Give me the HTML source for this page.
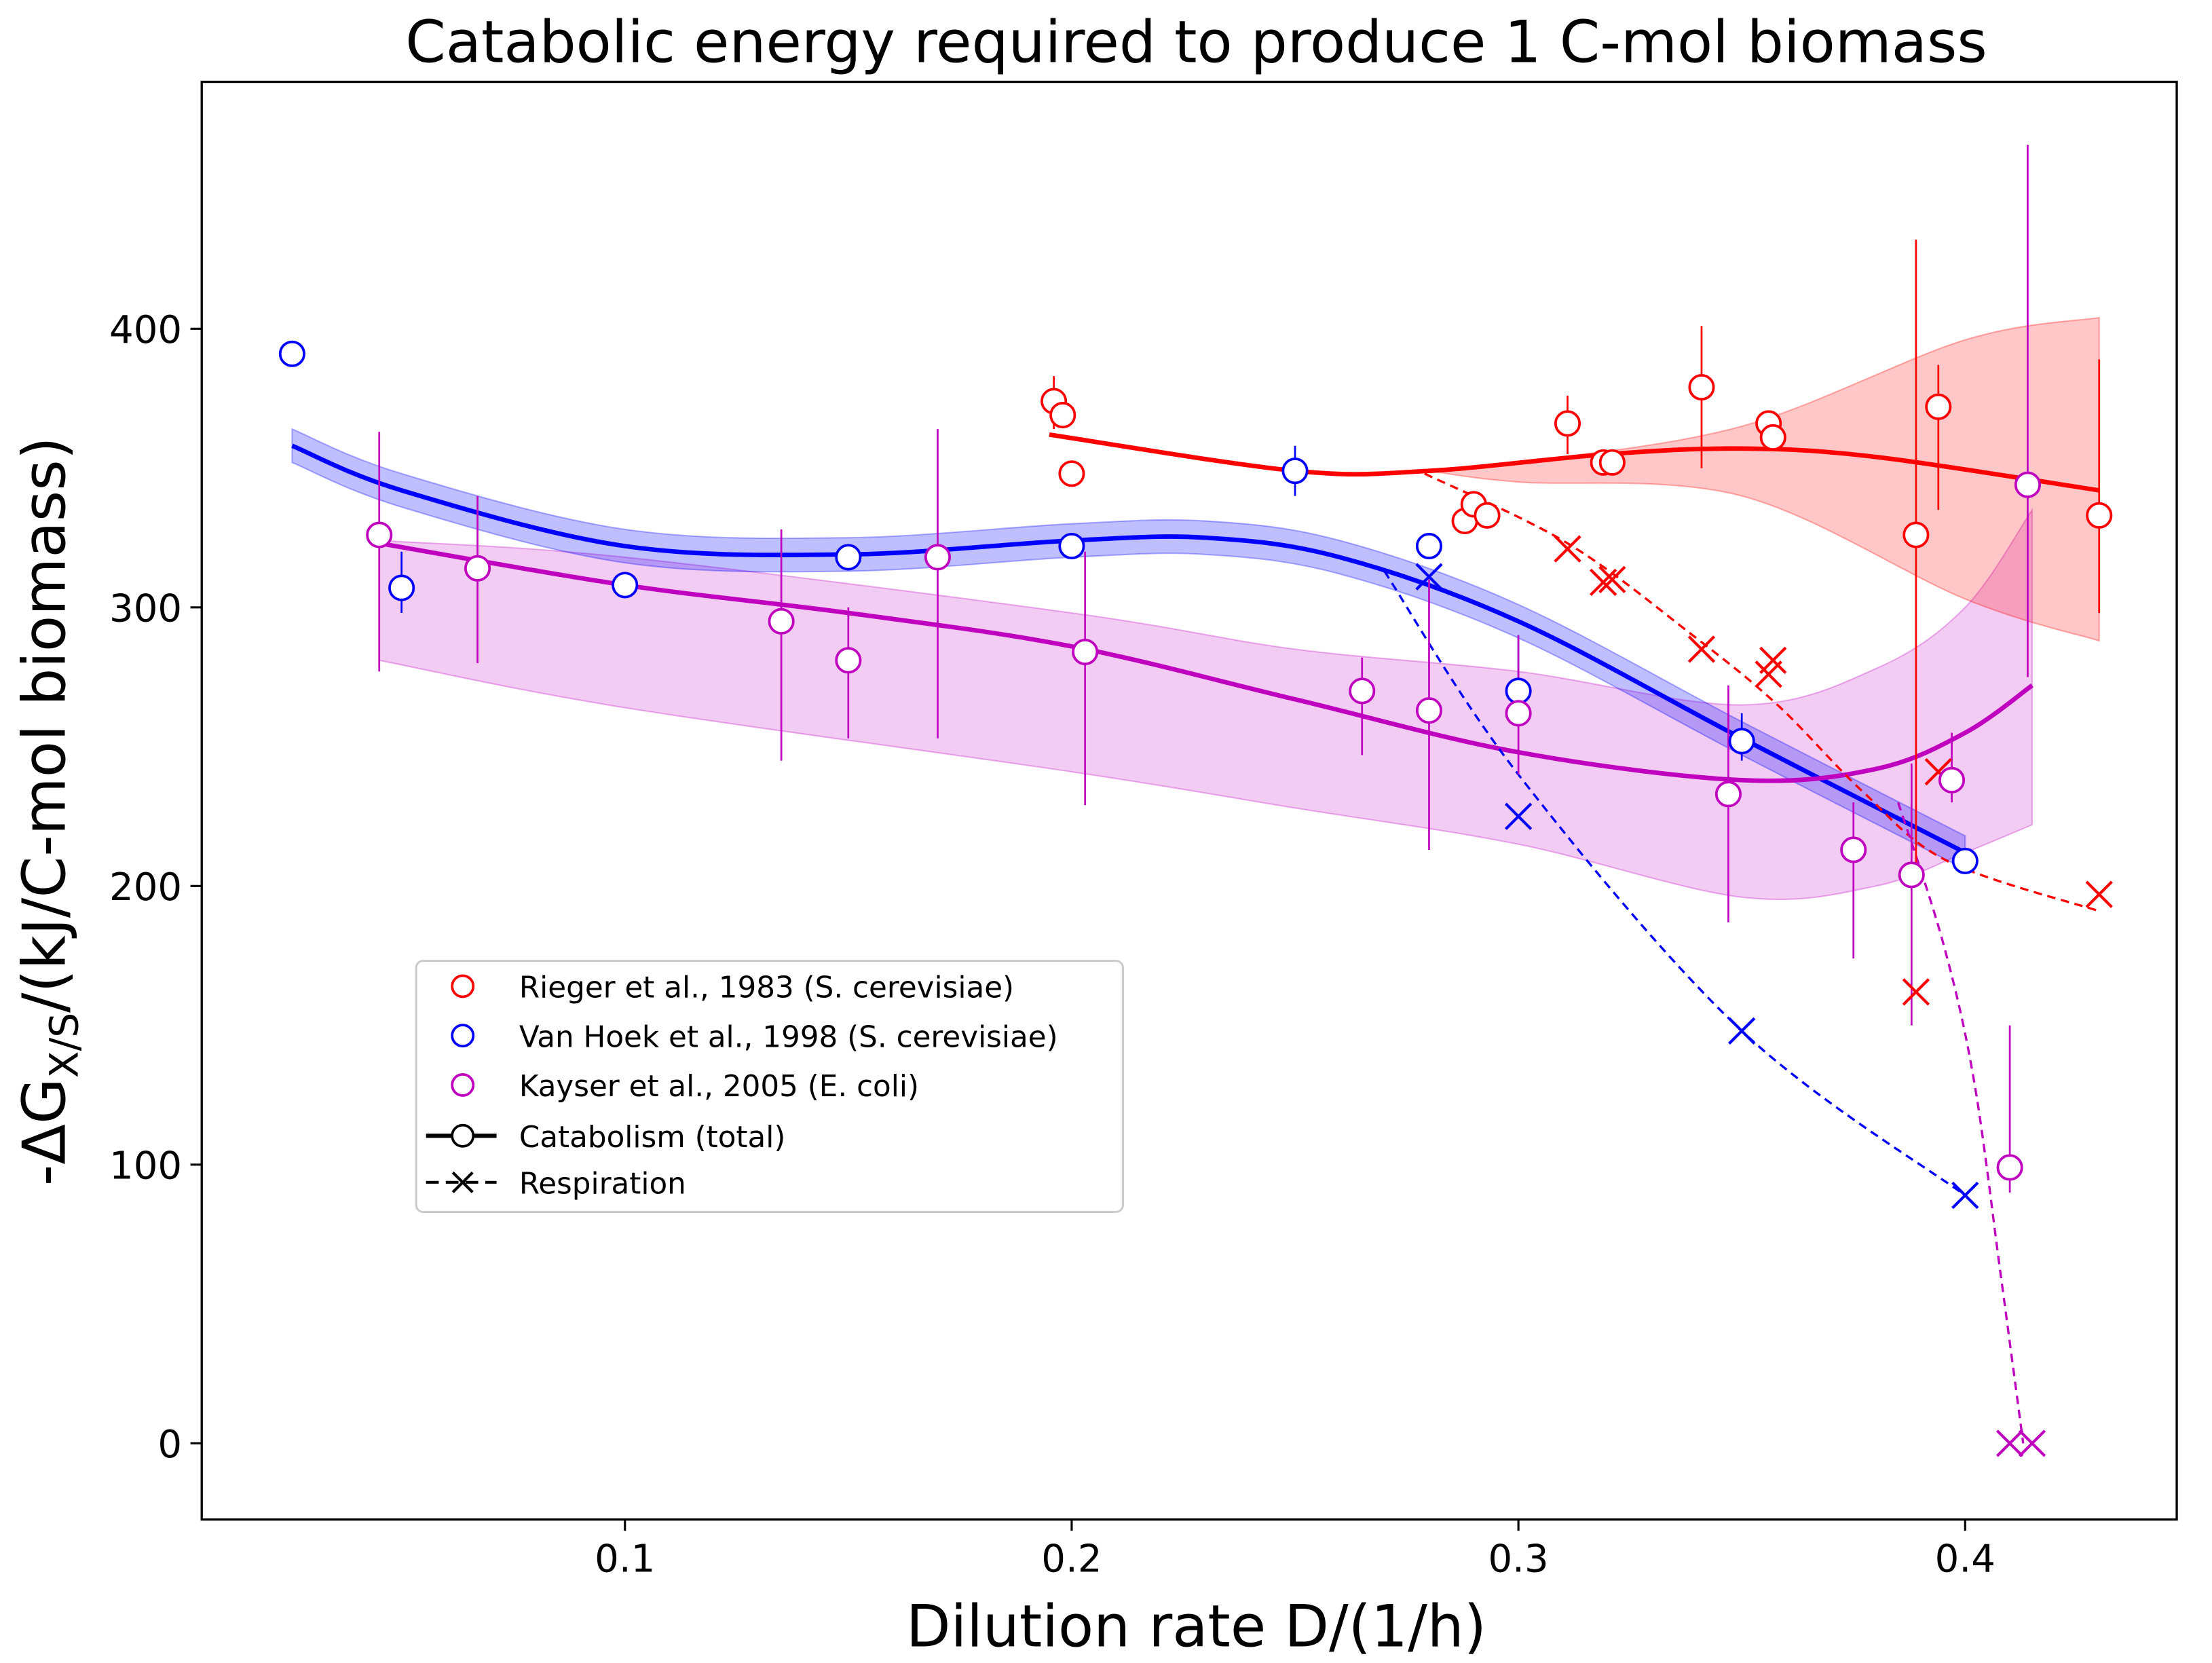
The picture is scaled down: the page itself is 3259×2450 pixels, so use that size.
<!DOCTYPE html>
<html><head><meta charset="utf-8">
<style>
html,body{margin:0;padding:0;background:#fff;}
svg{display:block;font-family:"DejaVu Sans","Liberation Sans",sans-serif;}
</style></head>
<body>
<svg id="chart" width="3259" height="2450" viewBox="0 0 1568 1178.7" preserveAspectRatio="none" xmlns="http://www.w3.org/2000/svg">
<rect width="1568" height="1179" fill="#fff"/>
<text x="848" y="44" font-size="41" text-anchor="middle">Catabolic energy required to produce 1 C-mol biomass</text>
<g id="plot"></g>
<rect x="143" y="58" width="1400" height="1019" fill="none" stroke="#000" stroke-width="1.6"/>
<g id="ticks"></g>
<text x="848" y="1167" font-size="41" text-anchor="middle">Dilution rate D/(1/h)</text>
<text transform="translate(46,575) rotate(-90)" font-size="42" text-anchor="middle">-ΔG<tspan font-size="28" dy="9">X/S</tspan><tspan dy="-9">/(kJ/C-mol biomass)</tspan></text>
<g>
<rect x="295" y="681" width="501" height="178" rx="5" fill="#fff" stroke="#ccc" stroke-width="1.5"/>
<circle cx="328" cy="699" r="7.5" fill="none" stroke="#ff0000" stroke-width="1.8"/>
<text x="368" y="707" font-size="21">Rieger et al., 1983 (S. cerevisiae)</text>
<circle cx="328" cy="734" r="7.5" fill="none" stroke="#0000ff" stroke-width="1.8"/>
<text x="368" y="742" font-size="21">Van Hoek et al., 1998 (S. cerevisiae)</text>
<circle cx="328" cy="769" r="7.5" fill="none" stroke="#bf00bf" stroke-width="1.8"/>
<text x="368" y="777" font-size="21">Kayser et al., 2005 (E. coli)</text>
<line x1="302" y1="805" x2="352" y2="805" stroke="#000" stroke-width="3"/>
<circle cx="328" cy="805" r="7.5" fill="#fff" stroke="#000" stroke-width="1.8"/>
<text x="368" y="813" font-size="21">Catabolism (total)</text>
<line x1="302" y1="838" x2="352" y2="838" stroke="#000" stroke-width="2" stroke-dasharray="9,5"/>
<path d="M321 831 L335 845 M335 831 L321 845" stroke="#000" stroke-width="2"/>
<text x="368" y="846" font-size="21">Respiration</text>
</g>
</svg>
<script>
const xTicks=[0.1,0.2,0.3,0.4];
const yTicks=[0,100,200,300,400];
const redD=[0.196,0.198,0.2,0.288,0.29,0.293,0.311,0.319,0.321,0.341,0.356,0.357,0.389,0.394,0.43];
const redV=[374,369,348,331,337,333,366,352,352,379,366,361,326,372,333];
const redErrX=[0.196,0.311,0.341,0.389,0.394,0.43];
const redErrLo=[364,355,350,205,335,298];
const redErrHi=[383,376,401,432,387,389];
const redRespD=[0.311,0.319,0.321,0.341,0.356,0.357,0.389,0.394,0.43];
const redRespV=[321,309,310,285,276,281,162,241,197];
const redRespFitD=[0.279,0.311,0.339,0.358,0.377,0.396,0.43];
const redRespFitV=[348,323,290,265,234,209,191];
const redFitD=[0.195,0.25,0.28,0.32,0.35,0.38,0.43];
const redFitV=[362,349,349,355,357,354,342];
const redBandD=[0.28,0.3,0.35,0.4,0.43];
const redBandHi=[349,352,365,396,404];
const redBandLo=[349,345,340,303,288];
const blueD=[0.0255,0.05,0.1,0.15,0.2,0.25,0.28,0.3,0.35,0.4];
const blueV=[391,307,308,318,322,349,322,270,252,209];
const blueErrX=[0.05,0.25,0.3,0.35];
const blueErrLo=[298,340,261,245];
const blueErrHi=[320,358,290,262];
const blueRespD=[0.28,0.3,0.35,0.4];
const blueRespV=[311,225,148,89];
const blueRespFitD=[0.27,0.3,0.35,0.4];
const blueRespFitV=[313,240,148,89];
const blueFitD=[0.0255,0.05,0.1,0.15,0.2,0.23,0.26,0.3,0.35,0.4];
const blueFitV=[358,342,322,319,324,325,318,295,253,212];
const magD=[0.045,0.067,0.135,0.15,0.17,0.203,0.265,0.28,0.3,0.347,0.375,0.388,0.397,0.41,0.414];
const magV=[326,314,295,281,318,284,270,263,262,233,213,204,238,99,344];
const magErrLo=[277,280,245,253,253,229,247,213,240,187,174,150,230,90,275];
const magErrHi=[363,340,328,300,364,320,282,310,290,272,230,244,255,150,466];
const magRespD=[0.41,0.415];
const magRespV=[0,0];
const magRespFitD=[0.385,0.395,0.402,0.408,0.413];
const magRespFitV=[230,180,130,60,0];
const magFitD=[0.045,0.1,0.15,0.2,0.25,0.3,0.35,0.38,0.4,0.415];
const magFitV=[323,308,298,286,267,248,238,242,255,272];
const magBandD=[0.045,0.1,0.2,0.25,0.3,0.35,0.38,0.4,0.415];
const magBandHi=[324,318,298,285,277,265,278,300,335];
const magBandLo=[281,264,241,228,215,196,200,212,222];

const X=d=>443+(d-0.1)*3166.7;
const Y=v=>1023-v*1.975;
const NS='http://www.w3.org/2000/svg';
const plot=document.getElementById('plot');
const ticks=document.getElementById('ticks');
function mk(tag,attrs,parent){const e=document.createElementNS(NS,tag);for(const k in attrs)e.setAttribute(k,attrs[k]);(parent||plot).appendChild(e);return e;}
function smooth(pts){let d='M'+pts[0][0]+' '+pts[0][1];for(let i=0;i<pts.length-1;i++){const p0=pts[Math.max(i-1,0)],p1=pts[i],p2=pts[i+1],p3=pts[Math.min(i+2,pts.length-1)];const c1=[p1[0]+(p2[0]-p0[0])/6,p1[1]+(p2[1]-p0[1])/6],c2=[p2[0]-(p3[0]-p1[0])/6,p2[1]-(p3[1]-p1[1])/6];d+=' C'+c1+' '+c2+' '+p2;}return d;}
function pts(ds,vs){return ds.map((d,i)=>[X(d),Y(vs[i])]);}
function band(ds,hi,lo,col,op,name){const up=pts(ds,hi),dn=pts(ds,lo).reverse();const d=smooth(up)+' L'+dn[0]+' '+smooth(dn).slice(1)+' Z';const e=mk('path',{d:d,fill:col,'fill-opacity':op,stroke:col,'stroke-opacity':0.3});}
function line(ds,vs,col,w,dash,name){const e=mk('path',{d:smooth(pts(ds,vs)),fill:'none',stroke:col,'stroke-width':w});if(dash)e.setAttribute('stroke-dasharray',dash);}
function errs(xs,lo,hi,col,name){xs.forEach((d,i)=>{const e=mk('line',{x1:X(d),x2:X(d),y1:Y(lo[i]),y2:Y(hi[i]),stroke:col,'stroke-width':1.3});});}
function circles(ds,vs,col,name){ds.forEach((d,i)=>{const e=mk('circle',{cx:X(d),cy:Y(vs[i]),r:8.5,fill:'#fff',stroke:col,'stroke-width':1.8});});}
function crosses(ds,vs,col,name){ds.forEach((d,i)=>{const x=X(d),y=Y(vs[i]),s=9;const e=mk('path',{d:`M${x-s} ${y-s}L${x+s} ${y+s}M${x+s} ${y-s}L${x-s} ${y+s}`,stroke:col,'stroke-width':2});});}

band(magBandD,magBandHi,magBandLo,'#bf00bf',0.2,'kayser-confidence-band');
band(redBandD,redBandHi,redBandLo,'#ff0000',0.22,'rieger-confidence-band');
band(blueFitD,blueFitV.map(v=>v+6),blueFitV.map(v=>v-6),'#0000ff',0.25,'vanhoek-confidence-band');
line(redFitD,redFitV,'#ff0000',3.2,null,'rieger-catabolism-fit');
line(blueFitD,blueFitV,'#0000ff',3.2,null,'vanhoek-catabolism-fit');
line(magFitD,magFitV,'#bf00bf',3.2,null,'kayser-catabolism-fit');
line(redRespFitD,redRespFitV,'#ff0000',1.6,'6,4','rieger-respiration-fit');
line(blueRespFitD,blueRespFitV,'#0000ff',1.6,'6,4','vanhoek-respiration-fit');
line(magRespFitD,magRespFitV,'#bf00bf',1.6,'6,4','kayser-respiration-fit');
errs(redErrX,redErrLo,redErrHi,'#ff0000','rieger-error-bar');
errs(blueErrX,blueErrLo,blueErrHi,'#0000ff','vanhoek-error-bar');
errs(magD,magErrLo,magErrHi,'#bf00bf','kayser-error-bar');
crosses(redRespD,redRespV,'#ff0000','rieger-respiration-point');
crosses(blueRespD,blueRespV,'#0000ff','vanhoek-respiration-point');
crosses(magRespD,magRespV,'#bf00bf','kayser-respiration-point');
circles(redD,redV,'#ff0000','rieger-catabolism-point');
circles(blueD,blueV,'#0000ff','vanhoek-catabolism-point');
circles(magD,magV,'#bf00bf','kayser-catabolism-point');

xTicks.forEach(t=>{const x=X(t);
const l=mk('line',{x1:x,x2:x,y1:1077,y2:1085,stroke:'#000','stroke-width':1.5},ticks);


const tx=mk('text',{x:x,y:1114,'font-size':27,'text-anchor':'middle'},ticks);tx.textContent=t.toFixed(1);

});
yTicks.forEach(t=>{const y=Y(t);
const l=mk('line',{x1:135,x2:143,y1:y,y2:y,stroke:'#000','stroke-width':1.5},ticks);


const tx=mk('text',{x:129,y:y+10,'font-size':27,'text-anchor':'end'},ticks);tx.textContent=t;

});
</script>
</body></html>
